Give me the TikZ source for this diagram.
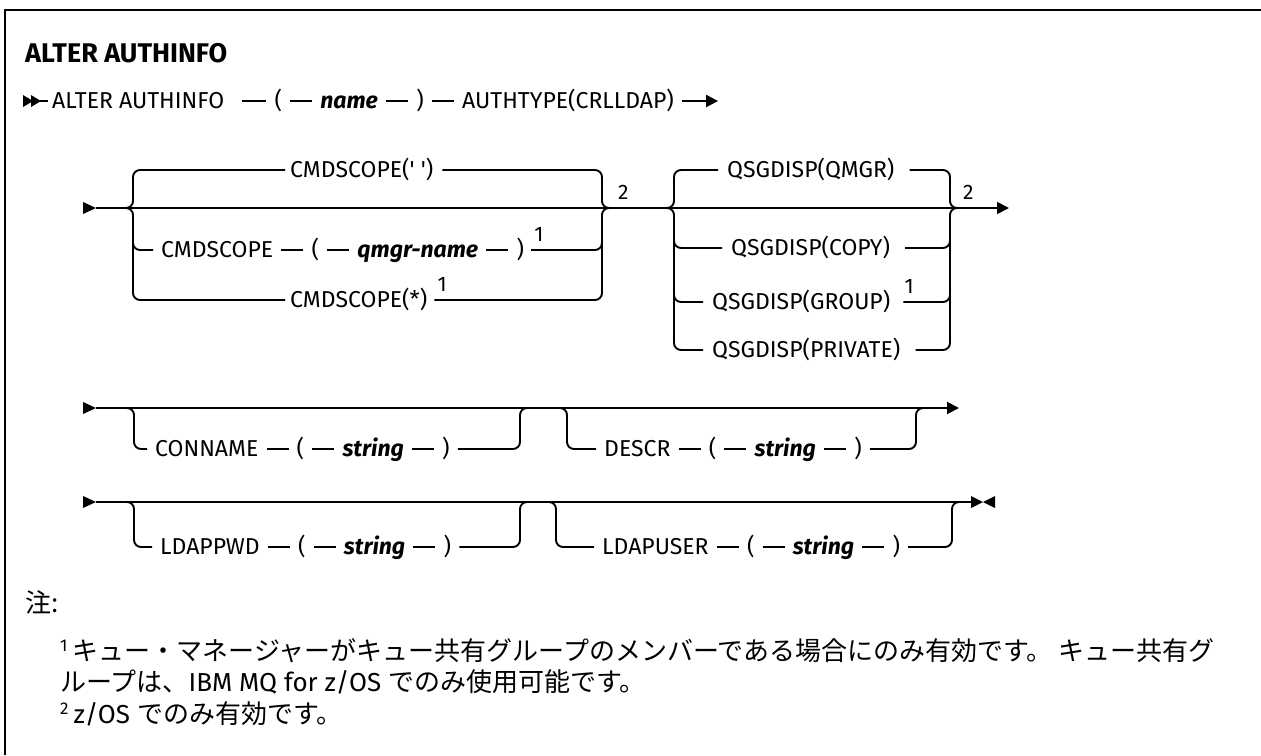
\documentclass[tikz,border=0pt]{standalone}
\usepackage{fontspec}
\setmainfont{Fira Sans}
\newfontfamily\cjk{Noto Sans CJK JP}
\usetikzlibrary{positioning,arrows.meta}
\newcommand\dfont{\fontsize{23}{27}\selectfont}
\newcommand\nfont{\fontsize{26}{31}\selectfont}
\newcommand\nsup[1]{\raisebox{9pt}{\fontsize{17}{17}\selectfont #1}\hspace{5pt}}
\tikzset{
  rail/.style={line width=1.9pt},
  railarrow/.style={rail,-{Triangle[length=12pt,width=12pt]}},
  brace/.style={rail,rounded corners=7pt},
  tok/.style={font=\dfont, inner sep=0pt, text height=15.8pt, text depth=0pt, anchor=west},
  var/.style={tok, font=\dfont\bfseries\itshape},
  supnum/.style={font=\fontsize{21}{21}\selectfont, inner sep=0pt, anchor=base west},
  notetext/.style={font=\nfont, inner sep=0pt, anchor=base west},
  titletext/.style={font=\fontsize{27}{32}\selectfont\bfseries, inner sep=0pt, anchor=west, text height=18.6pt, text depth=0pt},
}
\newcommand\raillink[2]{\draw[rail] ([xshift=8pt]#1.east) -- ([xshift=-8pt]#2.west);}
\begin{document}
\begin{tikzpicture}[x=1pt,y=-1pt]
\useasboundingbox (0,0) rectangle (1261,755);
% frame
\draw[line width=2.6pt] (5,755) -- (5,10) -- (1261,10);
% title
\node[titletext] (title) at (25,53) {ALTER AUTHINFO};

% ---------- row 1 ----------
\fill (23,95) -- (33,101) -- (23,107) -- cycle;
\fill (31,95) -- (41,101) -- (31,107) -- cycle;
\coordinate (r1s) at (40,101);
\node[tok] (a1) at (52,101) {ALTER AUTHINFO};
\node[tok, right=50pt of a1] (a2) {(};
\node[var, right=38pt of a2] (a3) {name};
\node[tok, right=38pt of a3] (a4) {)};
\node[tok, right=38pt of a4] (a5) {AUTHTYPE(CRLLDAP)};
\coordinate[right=44pt of a5] (r1e);
\draw[rail] (r1s) -- ([xshift=-4pt]a1.west);
\draw[rail] ([xshift=18pt]a1.east) -- ([xshift=-8pt]a2.west);
\raillink{a2}{a3}
\raillink{a3}{a4}
\raillink{a4}{a5}
\draw[railarrow] ([xshift=8pt]a5.east) -- (r1e);

% ---------- row 2 ----------
\fill (83,202) -- (96,208) -- (83,214) -- cycle;
\coordinate (r2s) at (96,208);
\coordinate (r2e) at (1009,208);
\draw[railarrow] (r2s) -- (r2e);
% group 1
\coordinate (g1jl) at (126,208);
\coordinate (g1jr) at (609,208);
\node[tok] (c1) at (290,170) {CMDSCOPE(\textquotesingle\ \textquotesingle)};
\node[tok] (c2a) at (161,250) {CMDSCOPE};
\node[tok, right=38pt of c2a] (c2b) {(};
\node[var, right=38pt of c2b] (c2c) {qmgr-name};
\node[tok, right=38pt of c2c] (c2d) {)};
\node[supnum] (c2n) at ([xshift=10pt,yshift=9pt]c2d.east) {1};
\node[tok] (c3) at (290,300) {CMDSCOPE(*)};
\node[supnum] (c3n) at ([xshift=10pt,yshift=9pt]c3.east) {1};
\raillink{c2a}{c2b}
\raillink{c2b}{c2c}
\raillink{c2c}{c2d}
\draw[brace] (g1jl) -| (133,170) -- ([xshift=-5pt]c1.west);
\draw[brace] (g1jl) -| (133,300) -- ([xshift=-5pt]c3.west);
\draw[brace] (133,220) |- ([xshift=-8pt]c2a.west);
\draw[brace] ([xshift=9pt]c1.east) -| (602,208) -- (g1jr);
\draw[brace] ([xshift=7pt]c3.east) -| (602,208) -- (g1jr);
\draw[brace] ([xshift=7pt]c2d.east) -| (602,220);
\node[supnum] (g1n) at (618,199) {2};
% group 2
\coordinate (g2jl) at (665,208);
\coordinate (g2jr) at (957,208);
\node[tok] (q1) at (727,170) {QSGDISP(QMGR)};
\node[tok] (q2) at (731,248) {QSGDISP(COPY)};
\node[tok] (q3) at (712,302) {QSGDISP(GROUP)};
\node[supnum] (q3n) at ([xshift=14pt,yshift=9pt]q3.east) {1};
\node[tok] (q4) at (712,350) {QSGDISP(PRIVATE)};
\draw[brace] (g2jl) -| (674,170) -- ([xshift=-9pt]q1.west);
\draw[brace] (g2jl) -| (674,350) -- ([xshift=-9pt]q4.west);
\draw[brace] (674,220) |- ([xshift=-9pt]q2.west);
\draw[brace] (674,280) |- ([xshift=-9pt]q3.west);
\draw[brace] ([xshift=15pt]q1.east) -| (950,208) -- (g2jr);
\draw[brace] ([xshift=15pt]q4.east) -| (950,208) -- (g2jr);
\draw[brace] ([xshift=15pt]q2.east) -| (950,220);
\draw[brace] ([xshift=13pt]q3.east) -| (950,280);
\node[supnum] (g2n) at (963,199) {2};

% ---------- row 3 ----------
\fill (83,402) -- (96,408) -- (83,414) -- cycle;
\coordinate (r3s) at (96,408);
\coordinate (r3e) at (959,408);
\draw[railarrow] (r3s) -- (r3e);
\coordinate (g3jl) at (127,408);
\coordinate (g3jr) at (527,408);
\node[tok] (d1) at (155,449) {CONNAME};
\node[tok, right=38pt of d1] (d2) {(};
\node[var, right=38pt of d2] (d3) {string};
\node[tok, right=38pt of d3] (d4) {)};
\raillink{d1}{d2}
\raillink{d2}{d3}
\raillink{d3}{d4}
\draw[brace] (g3jl) -| (134,449) -- ([xshift=-8pt]d1.west);
\draw[brace] ([xshift=8pt]d4.east) -| (520,408) -- (g3jr);
\coordinate (g4jl) at (560,408);
\coordinate (g4jr) at (923,408);
\node[tok] (e1) at (604,449) {DESCR};
\node[tok, right=38pt of e1] (e2) {(};
\node[var, right=38pt of e2] (e3) {string};
\node[tok, right=38pt of e3] (e4) {)};
\raillink{e1}{e2}
\raillink{e2}{e3}
\raillink{e3}{e4}
\draw[brace] (g4jl) -| (567,449) -- ([xshift=-8pt]e1.west);
\draw[brace] ([xshift=8pt]e4.east) -| (916,408) -- (g4jr);

% ---------- row 4 ----------
\fill (83,496) -- (96,502) -- (83,508) -- cycle;
\coordinate (r4s) at (96,502);
\coordinate (r4e) at (971,502);
\draw[rail] (r4s) -- (r4e);
\fill (971,496) -- (983,502) -- (971,508) -- cycle;
\fill (995,496) -- (983,502) -- (995,508) -- cycle;
\coordinate (g5jl) at (127,502);
\coordinate (g5jr) at (527,502);
\node[tok] (f1) at (160,547) {LDAPPWD};
\node[tok, right=38pt of f1] (f2) {(};
\node[var, right=38pt of f2] (f3) {string};
\node[tok, right=38pt of f3] (f4) {)};
\raillink{f1}{f2}
\raillink{f2}{f3}
\raillink{f3}{f4}
\draw[brace] (g5jl) -| (134,547) -- ([xshift=-8pt]f1.west);
\draw[brace] ([xshift=8pt]f4.east) -| (520,502) -- (g5jr);
\coordinate (g6jl) at (549,502);
\coordinate (g6jr) at (959,502);
\node[tok] (h1) at (602,547) {LDAPUSER};
\node[tok, right=38pt of h1] (h2) {(};
\node[var, right=38pt of h2] (h3) {string};
\node[tok, right=38pt of h3] (h4) {)};
\raillink{h1}{h2}
\raillink{h2}{h3}
\raillink{h3}{h4}
\draw[brace] (g6jl) -| (556,547) -- ([xshift=-8pt]h1.west);
\draw[brace] ([xshift=8pt]h4.east) -| (952,502) -- (g6jr);

% ---------- notes ----------
\node[notetext] (nhead) at (25,612) {\cjk 注:};
\node[notetext] (note1a) at (60,660) {\nsup{1}{\cjk キュー・マネージャーがキュー共有グループのメンバーである場合にのみ有効です。 キュー共有グ}};
\node[notetext] (note1b) at (60,691) {{\cjk ループは、}IBM MQ for z/OS {\cjk でのみ使用可能です。}};
\node[notetext] (note2) at (60,723) {\nsup{2}z/OS {\cjk でのみ有効です。}};
\end{tikzpicture}
\end{document}
